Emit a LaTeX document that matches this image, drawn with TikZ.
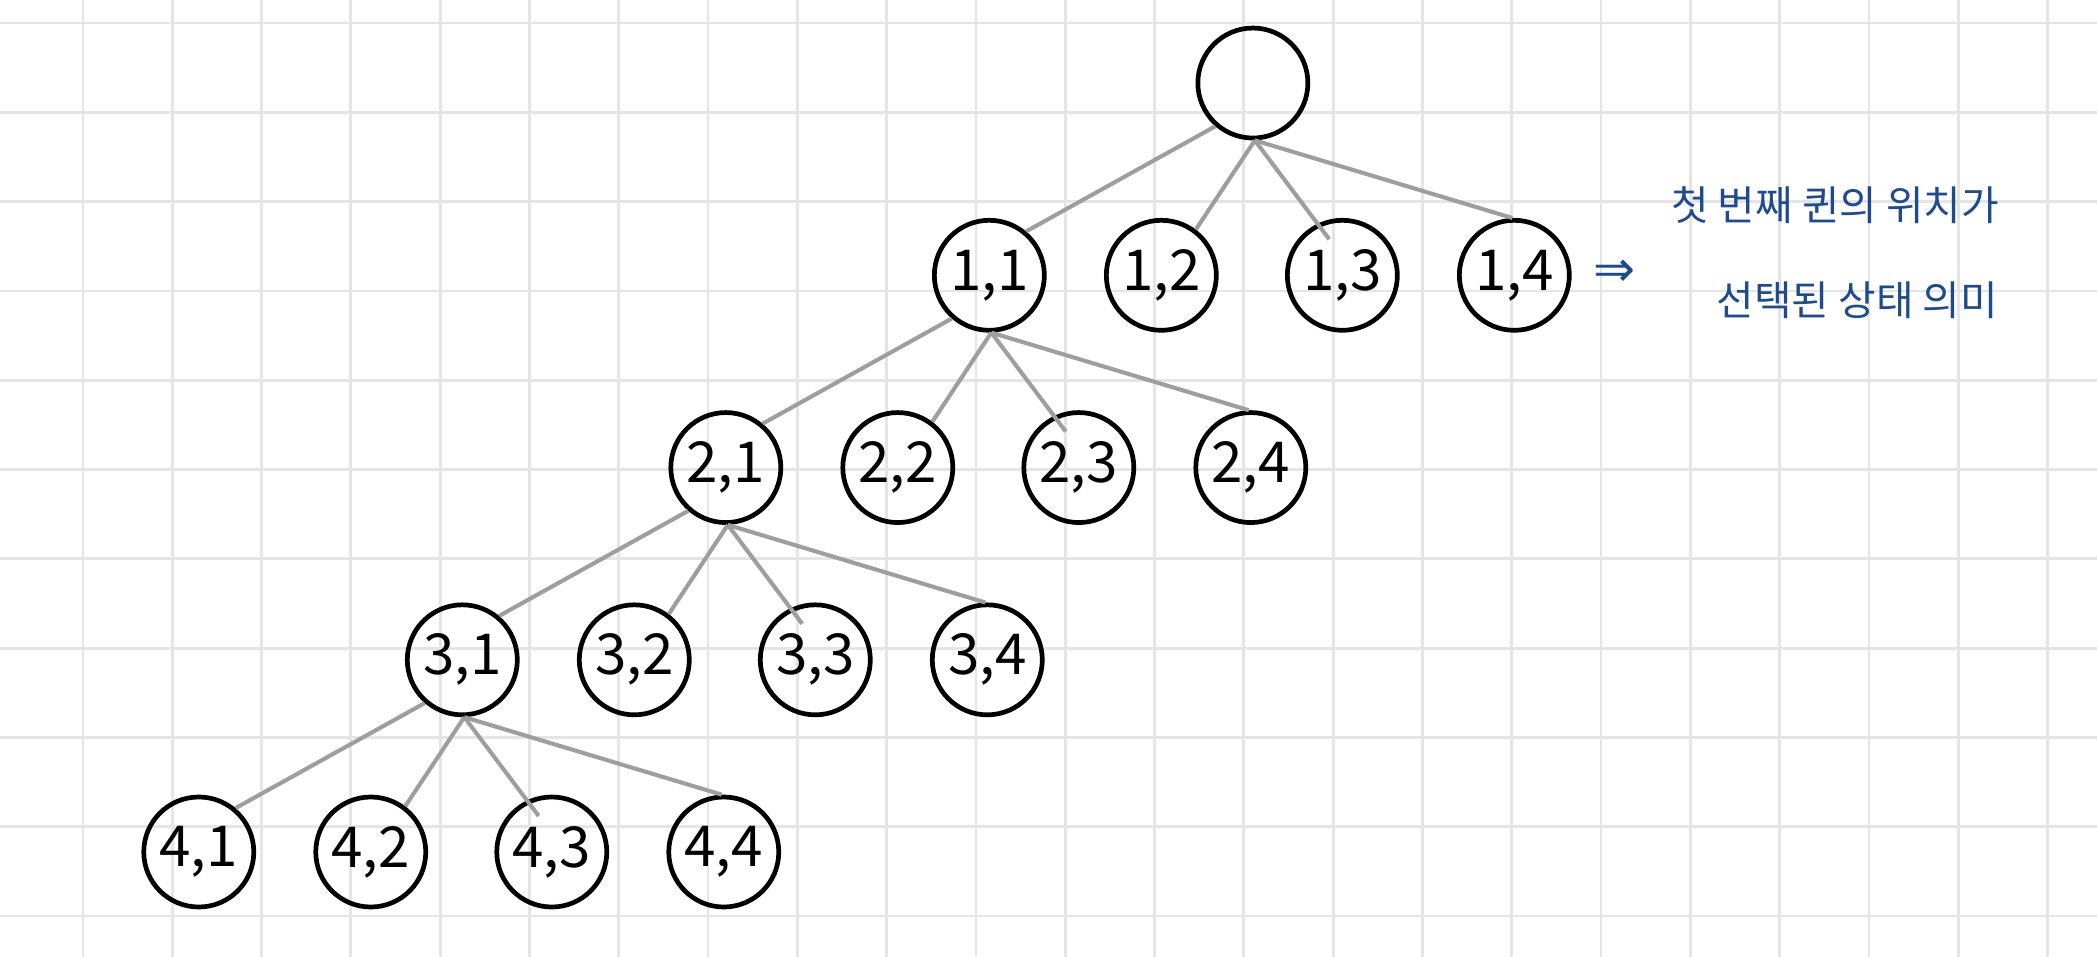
\documentclass[tikz,border=0pt]{standalone}
\usepackage{fontspec}
\usepackage{tikz}
\usetikzlibrary{calc}

\newfontfamily\krfont{Noto Sans CJK KR}
\newfontfamily\symfont{DejaVu Sans}

\definecolor{gridgray}{HTML}{E5E5E5}
\definecolor{edgegray}{HTML}{9E9E9E}
\definecolor{noteblue}{HTML}{1F4B8E}

\tikzset{
  qnode/.style={circle, draw=black, line width=1.5pt, minimum size=1.232cm, inner sep=0pt,
    font=\krfont\fontsize{18}{18}\selectfont},
  branch/.style={draw=edgegray, line width=1.3pt},
  note/.style={text=noteblue, inner sep=0pt, font=\krfont\fontsize{13}{13}\selectfont},
}

\begin{document}
\begin{tikzpicture}
    \useasboundingbox (0,0) rectangle (23.483,10.706);
    \fill[white] (0,0) rectangle (23.483,10.706);

    % squared paper
    \begin{scope}
      \clip (0,0) rectangle (23.483,10.706);
      \draw[gridgray, line width=0.9pt, shift={(0.929,0.448)}] (-1,-1) grid (23,11);
    \end{scope}

    % root
    \node[qnode] (root) at (14.030,9.776) {};

    % first queen
    \node[qnode] (n11) at (11.079,7.623) {1,1};
    \node[qnode] (n12) at (13.005,7.623) {1,2};
    \node[qnode] (n13) at (15.032,7.623) {1,3};
    \node[qnode] (n14) at (16.958,7.623) {1,4};

    % second queen
    \node[qnode] (n21) at (8.128,5.470) {2,1};
    \node[qnode] (n22) at (10.054,5.470) {2,2};
    \node[qnode] (n23) at (12.081,5.470) {2,3};
    \node[qnode] (n24) at (14.007,5.470) {2,4};

    % third queen
    \node[qnode] (n31) at (5.177,3.317) {3,1};
    \node[qnode] (n32) at (7.103,3.317) {3,2};
    \node[qnode] (n33) at (9.130,3.317) {3,3};
    \node[qnode] (n34) at (11.056,3.317) {3,4};

    % fourth queen
    \node[qnode] (n41) at (2.226,1.165) {4,1};
    \node[qnode] (n42) at (4.152,1.165) {4,2};
    \node[qnode] (n43) at (6.179,1.165) {4,3};
    \node[qnode] (n44) at (8.105,1.165) {4,4};

    % branches
    \draw[branch] (root.229) -- (n11.50);
    \draw[branch] (root.272) -- (n12.53);
    \draw[branch] (root.272) -- ($(n13.center)+(110:0.43)$);
    \draw[branch] (root.272) -- (n14.92);

    \draw[branch] (n11.229) -- (n21.50);
    \draw[branch] (n11.272) -- (n22.53);
    \draw[branch] (n11.272) -- ($(n23.center)+(110:0.43)$);
    \draw[branch] (n11.272) -- (n24.92);

    \draw[branch] (n21.229) -- (n31.50);
    \draw[branch] (n21.272) -- (n32.53);
    \draw[branch] (n21.272) -- ($(n33.center)+(110:0.43)$);
    \draw[branch] (n21.272) -- (n34.92);

    \draw[branch] (n31.229) -- (n41.50);
    \draw[branch] (n31.272) -- (n42.53);
    \draw[branch] (n31.272) -- ($(n43.center)+(110:0.43)$);
    \draw[branch] (n31.272) -- (n44.92);

    % note
    \node[note, font=\symfont\fontsize{16}{16}\selectfont] (imp) at (18.085,7.648) {⇒};
    \node[note] (line1) at (20.550,8.410) {첫 번째 퀸의 위치가};
    \node[note] (line2) at (20.800,7.346) {선택된 상태 의미};
\end{tikzpicture}
\end{document}
